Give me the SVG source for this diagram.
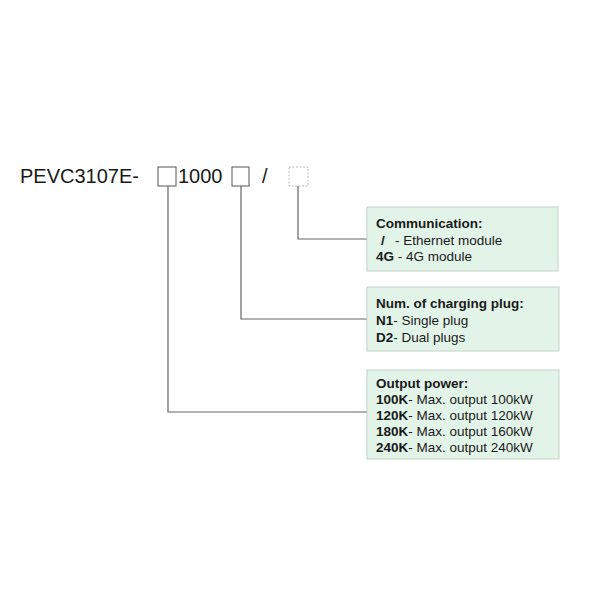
<svg xmlns="http://www.w3.org/2000/svg" width="600" height="600" viewBox="0 0 600 600">
<style>
.t{font-family:"Liberation Sans",Arial,sans-serif;fill:#1a1a1a}
.title{font-size:20px}
.bt{font-size:13.5px}
.b{font-weight:bold}
.box{fill:#e2f4e8;stroke:#c4d2c8;stroke-width:1}
.code{fill:#fff;stroke:#555;stroke-width:1}
.conn{fill:none;stroke:#666;stroke-width:1.2}
</style>
<rect width="600" height="600" fill="#fff"/>
<g id="code">
<text class="t title" x="20" y="183">PEVC3107E-</text>
<rect class="code" x="158" y="167" width="18" height="19"/>
<text class="t title" x="178" y="183">1000</text>
<rect class="code" x="232" y="167" width="17" height="19"/>
<text class="t title" x="262" y="183">/</text>
<rect x="289" y="167" width="19" height="19" fill="none" stroke="#bbb" stroke-width="1" stroke-dasharray="2,1.5"/>
</g>
<g id="connectors">
<polyline class="conn" points="298,186 298,239 367,239"/>
<polyline class="conn" points="241,186 241,319 367,319"/>
<polyline class="conn" points="168,186 168,412 367,412"/>
</g>
<g id="communication">
<rect class="box" x="367" y="207" width="191" height="64"/>
<text class="t bt b" x="376" y="228">Communication:</text>
<text class="t bt b" x="381" y="245">/</text>
<text class="t bt" x="395" y="245">- Ethernet module</text>
<text class="t bt" x="376" y="261"><tspan class="b">4G</tspan> - 4G module</text>
</g>
<g id="plug">
<rect class="box" x="367" y="287" width="192" height="64"/>
<text class="t bt b" x="376" y="308">Num. of charging plug:</text>
<text class="t bt" x="376" y="325"><tspan class="b">N1</tspan>- Single plug</text>
<text class="t bt" x="376" y="342"><tspan class="b">D2</tspan>- Dual plugs</text>
</g>
<g id="power">
<rect class="box" x="367" y="370" width="192" height="89"/>
<text class="t bt b" x="376" y="388">Output power:</text>
<text class="t bt" x="376" y="404"><tspan class="b">100K</tspan>- Max. output 100kW</text>
<text class="t bt" x="376" y="420"><tspan class="b">120K</tspan>- Max. output 120kW</text>
<text class="t bt" x="376" y="436"><tspan class="b">180K</tspan>- Max. output 160kW</text>
<text class="t bt" x="376" y="452"><tspan class="b">240K</tspan>- Max. output 240kW</text>
</g>
</svg>
